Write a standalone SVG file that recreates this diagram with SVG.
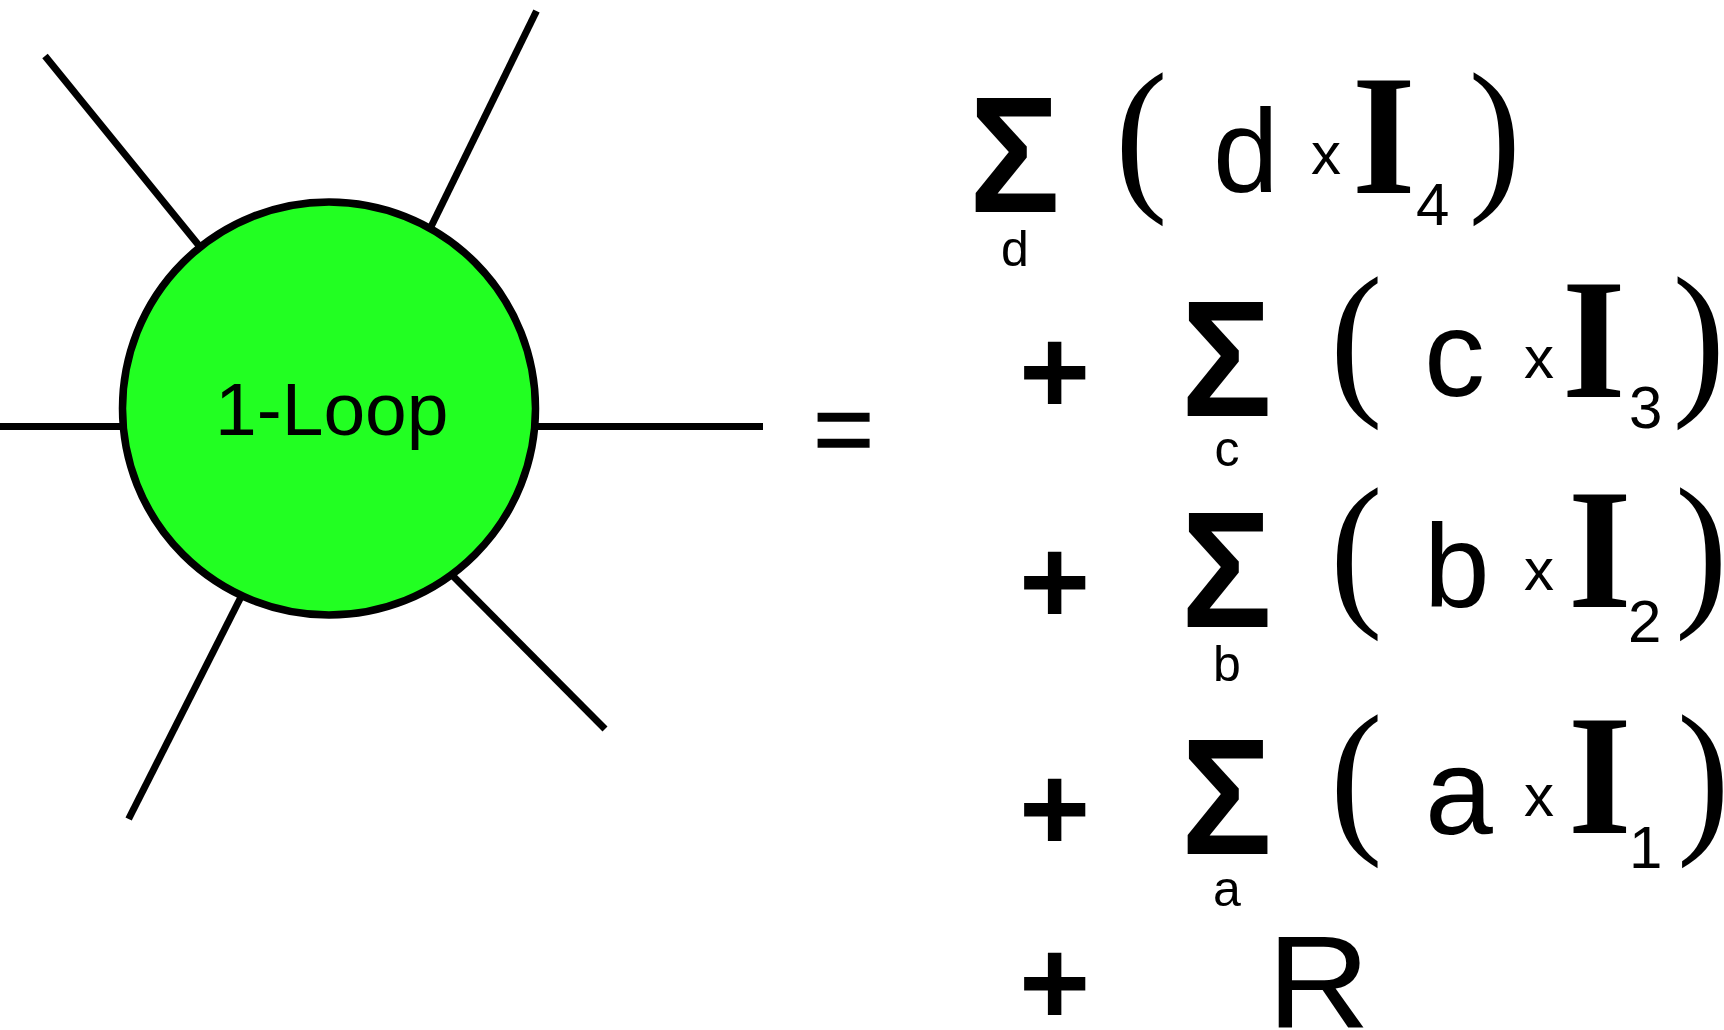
<svg xmlns="http://www.w3.org/2000/svg" width="1724" height="1030" viewBox="0 0 1724 1030">
<style>
.ln{stroke:#000;stroke-width:7;fill:none}
.sans{font-family:"Liberation Sans",Arial,sans-serif;fill:#000}
.sig{font-family:"Liberation Sans",Arial,sans-serif;font-weight:bold;font-size:165px}
.plus{font-family:"Liberation Sans",Arial,sans-serif;font-weight:bold;font-size:122px;text-anchor:middle}
.eq{font-family:"Liberation Sans",Arial,sans-serif;font-size:104px;text-anchor:middle;stroke:#000;stroke-width:1.5}
.par{font-family:"Liberation Serif","Times New Roman",serif;font-size:170px}
.big{font-family:"Liberation Serif","Times New Roman",serif;font-weight:bold;font-size:172px}
.let{font-family:"Liberation Sans",Arial,sans-serif;font-size:118px}
.tx{font-family:"Liberation Sans",Arial,sans-serif;font-size:60px}
.sub{font-family:"Liberation Sans",Arial,sans-serif;font-size:60px}
.ssub{font-family:"Liberation Sans",Arial,sans-serif;font-size:50px;text-anchor:middle}
</style>
<rect width="1724" height="1030" fill="#fff"/>
<g id="connectors">
<line class="ln" x1="0" y1="426.6" x2="130" y2="426.6"/>
<line class="ln" x1="530" y1="426.6" x2="763" y2="426.6"/>
<line class="ln" x1="45" y1="56" x2="205" y2="253"/>
<line class="ln" x1="536.5" y1="11" x2="426" y2="237"/>
<line class="ln" x1="605" y1="729" x2="446" y2="569"/>
<line class="ln" x1="128.6" y1="819" x2="246" y2="587"/>
</g>
<g id="loop-node">
<circle cx="329" cy="408.5" r="206.5" fill="#22ff22" stroke="#000" stroke-width="7.5"/>
<text class="sans" x="215" y="435" font-size="75">1-Loop</text>
</g>
<g id="equals">
<text class="eq" x="843.5" y="464">=</text>
</g>
<g id="term-d">
<text class="sig" transform="translate(969,212) scale(0.92,1)">Σ</text>
<text class="ssub" x="1015" y="266">d</text>
<text class="par" transform="translate(1115,190) scale(0.93,1)">(</text>
<text class="let" x="1213" y="192">d</text>
<text class="tx" x="1311" y="174">x</text>
<text class="big" transform="translate(1352,193) scale(0.95,1)">I</text>
<text class="sub" x="1416" y="225">4</text>
<text class="par" transform="translate(1468.5,190) scale(0.93,1)">)</text>
</g>
<g id="term-c">
<text class="plus" x="1054.5" y="414">+</text>
<text class="sig" transform="translate(1181,416) scale(0.92,1)">Σ</text>
<text class="ssub" x="1227" y="466">c</text>
<text class="par" transform="translate(1330,394) scale(0.93,1)">(</text>
<text class="let" x="1424" y="396" style="font-size:122px">c</text>
<text class="tx" x="1524" y="378">x</text>
<text class="big" transform="translate(1562,397) scale(0.95,1)">I</text>
<text class="sub" x="1629" y="428">3</text>
<text class="par" transform="translate(1672.5,394) scale(0.93,1)">)</text>
</g>
<g id="term-b">
<text class="plus" x="1054.5" y="624">+</text>
<text class="sig" transform="translate(1181,627) scale(0.92,1)">Σ</text>
<text class="ssub" x="1227" y="681">b</text>
<text class="par" transform="translate(1330,605) scale(0.93,1)">(</text>
<text class="let" x="1424" y="607">b</text>
<text class="tx" x="1524" y="590">x</text>
<text class="big" transform="translate(1568,607) scale(0.95,1)">I</text>
<text class="sub" x="1628" y="642">2</text>
<text class="par" transform="translate(1675,605) scale(0.93,1)">)</text>
</g>
<g id="term-a">
<text class="plus" x="1054.5" y="851">+</text>
<text class="sig" transform="translate(1181,854) scale(0.92,1)">Σ</text>
<text class="ssub" x="1227" y="906">a</text>
<text class="par" transform="translate(1330,832) scale(0.93,1)">(</text>
<text class="let" x="1425" y="834" style="font-size:122px">a</text>
<text class="tx" x="1524" y="816">x</text>
<text class="big" transform="translate(1568,833) scale(0.95,1)">I</text>
<text class="sub" x="1629" y="868">1</text>
<text class="par" transform="translate(1677,832) scale(0.93,1)">)</text>
</g>
<g id="term-r">
<text class="plus" x="1054.5" y="1025">+</text>
<text class="let" style="font-size:131px" transform="translate(1267,1028) scale(1.09,1)">R</text>
</g>
</svg>
